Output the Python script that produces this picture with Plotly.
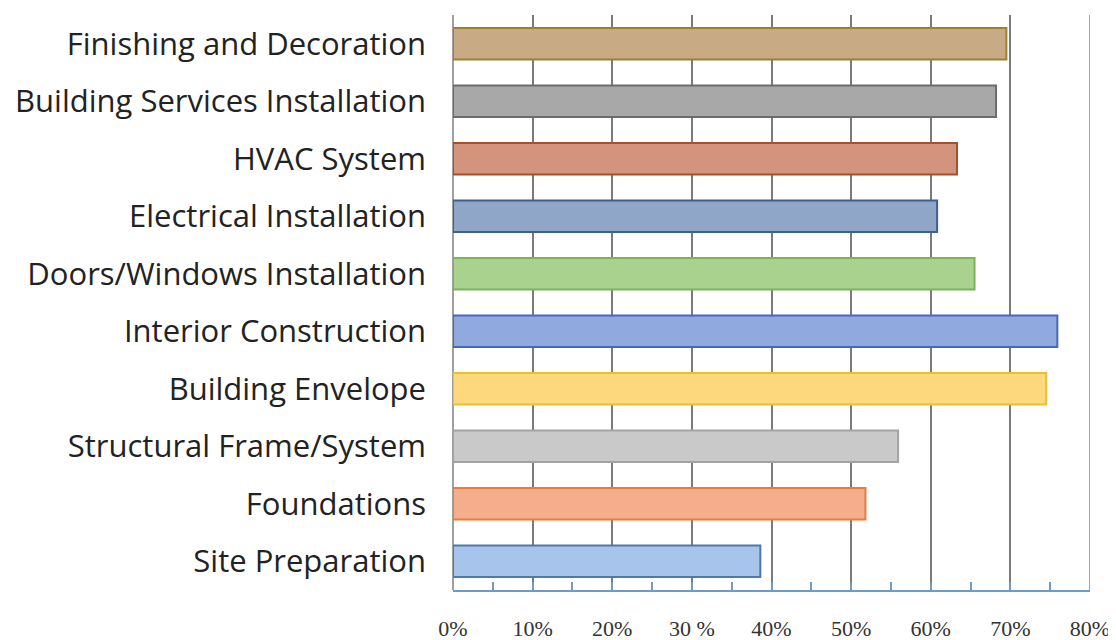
import plotly.graph_objects as go

categories = ["Site Preparation", "Foundations", "Structural Frame/System", "Building Envelope",
              "Interior Construction", "Doors/Windows Installation", "Electrical Installation",
              "HVAC System", "Building Services Installation", "Finishing and Decoration"]
values = [38.6, 51.8, 55.9, 74.5, 75.9, 65.5, 60.8, 63.3, 68.2, 69.5]
fill_colors = ["#A7C4EA", "#F4AE8C", "#C9C9C9", "#FDD87C", "#90A9DE", "#AAD28F",
               "#8FA6C9", "#D3937D", "#A8A8A8", "#C8AA84"]
line_colors = ["#4F79A8", "#EC7B3A", "#A3A3A3", "#E9C02E", "#4669BD", "#7CB25C",
               "#3D5F92", "#A4502E", "#6C6C6C", "#9E8030"]
tick_vals = [0, 10, 20, 30, 40, 50, 60, 70, 80]
tick_text = ["0%", "10%", "20%", "30 %", "40%", "50%", "60%", "70%", "80%"]

fig = go.Figure()
fig.add_trace(go.Bar(
    x=values, y=categories, orientation="h",
    marker=dict(color=fill_colors, line=dict(color=line_colors, width=2)),
    width=0.55, showlegend=False, hoverinfo="x+y",
))

fig.update_layout(
    width=1116, height=640,
    margin=dict(l=445, r=34, t=7, b=58),
    paper_bgcolor="white", plot_bgcolor="white",
    xaxis=dict(
        range=[0, 80], tickvals=tick_vals, ticktext=tick_text,
        showgrid=True, gridcolor="#7A7A7A", gridwidth=1.5,
        zeroline=True, zerolinecolor="#A0A0A0", zerolinewidth=1.5,
        showline=True, linecolor="#6C9CC4", linewidth=2,
        ticks="inside", ticklen=8, tickcolor="#6C9CC4", tickwidth=2,
        minor=dict(dtick=5, ticks="inside", ticklen=8, tickcolor="#6C9CC4", tickwidth=2, showgrid=False),
        ticklabelstandoff=18,
        tickfont=dict(family="Liberation Serif, Times New Roman, serif", size=22, color="#333333"),
        fixedrange=True, automargin=False,
    ),
    yaxis=dict(
        categoryorder="array", categoryarray=categories,
        showgrid=False, showline=False, ticks="",
        ticklabelstandoff=26,
        tickfont=dict(family="Open Sans, Noto Sans, sans-serif", size=31, color="#222222"),
        fixedrange=True, automargin=False,
    ),
    shapes=[dict(type="line", xref="x", yref="paper", x0=80, x1=80, y0=0, y1=1,
                 line=dict(color="#8A8A8A", width=1.5))],
)

fig.write_html("out.html")
